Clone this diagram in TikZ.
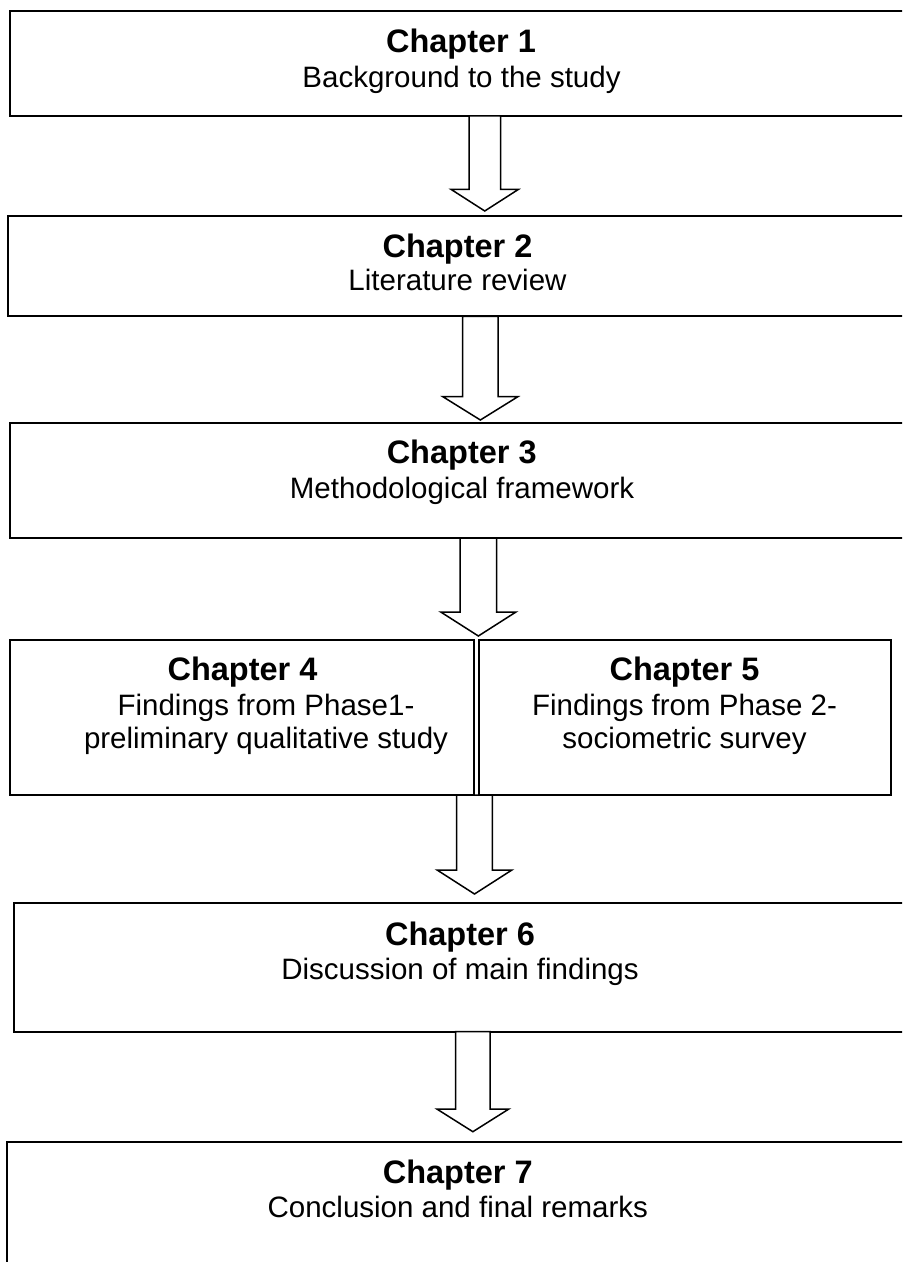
\documentclass[tikz,border=0pt]{standalone}
\usepackage{fontspec}
\setmainfont{Liberation Sans}
\usetikzlibrary{calc}

% Hollow block arrow from the bottom of one box to the top of the next.
% #1 source node, #2 target node, #3 centre x, #4 half shaft width,
% #5 half head width, #6 head length, #7 gap left above the target box
\newcommand\blockarrow[7]{%
  \draw[arrowbody]
    (#3-#4,0 |- #1.south)
    -- ($(#3-#4,0 |- #2.north)+(0,-#6-#7)$)
    -- ($(#3-#5,0 |- #2.north)+(0,-#6-#7)$)
    -- ($(#3,0 |- #2.north)+(0,-#7)$)
    -- ($(#3+#5,0 |- #2.north)+(0,-#6-#7)$)
    -- ($(#3+#4,0 |- #2.north)+(0,-#6-#7)$)
    -- (#3+#4,0 |- #1.south) -- cycle;}

\begin{document}
\begin{tikzpicture}[x=0.5pt,y=-0.5pt,
  chapbox/.style={draw=black, line width=1pt, fill=white, rectangle,
    anchor=north west, inner sep=0pt, outer sep=0pt},
  chaptitle/.style={anchor=base, inner sep=0pt,
    font=\fontsize{16.25pt}{19pt}\selectfont\bfseries},
  chapdesc/.style={anchor=base, inner sep=0pt,
    font=\fontsize{14.75pt}{17pt}\selectfont},
  arrowbody/.style={draw=black, line width=0.75pt, fill=white, line join=miter}]

\useasboundingbox (0,0) rectangle (902,1262);
\fill[white] (0,0) rectangle (902,1262);
\clip (0,0) rectangle (902,1262);

% chapter boxes
\node[chapbox, minimum width=452pt,   minimum height=52.5pt]  (b1) at (10,11) {};
\node[chapbox, minimum width=449.5pt, minimum height=50.4pt]  (b2) at (8,215.7) {};
\node[chapbox, minimum width=451.5pt, minimum height=57.5pt]  (b3) at (10,423) {};
\node[chapbox, minimum width=232.15pt,minimum height=77.75pt] (b4) at (10,639.5) {};
\node[chapbox, minimum width=206pt,   minimum height=77.25pt] (b5) at (479,640) {};
\node[chapbox, minimum width=446pt,   minimum height=64.2pt]  (b6) at (14,903.3) {};
\node[chapbox, minimum width=451.5pt, minimum height=80pt]    (b7) at (7,1141.7) {};

% box texts
\node[chaptitle] (t1) at (461,52.5) {Chapter 1};
\node[chapdesc]  (d1) at (461.5,87.5) {Background to the study};

\node[chaptitle] (t2) at (457.5,258) {Chapter 2};
\node[chapdesc]  (d2) at (457.5,290.5) {Literature review};

\node[chaptitle] (t3) at (461.7,463.5) {Chapter 3};
\node[chapdesc]  (d3) at (462,498) {Methodological framework};

\node[chaptitle] (t4)  at (242.5,680.5) {Chapter 4};
\node[chapdesc]  (d4a) at (266,715) {Findings from Phase1-};
\node[chapdesc]  (d4b) at (266,748.5) {preliminary qualitative study};

\node[chaptitle] (t5)  at (684.5,680.5) {Chapter 5};
\node[chapdesc]  (d5a) at (684.5,715) {Findings from Phase 2-};
\node[chapdesc]  (d5b) at (684.5,748.5) {sociometric survey};

\node[chaptitle] (t6) at (460,945) {Chapter 6};
\node[chapdesc]  (d6) at (460,979.5) {Discussion of main findings};

\node[chaptitle] (t7) at (457.8,1183.3) {Chapter 7};
\node[chapdesc]  (d7) at (457.8,1217.5) {Conclusion and final remarks};

% block arrows between the chapters
\blockarrow{b1}{b2}{484.75}{15.75}{33.5}{21.5}{4.7}
\blockarrow{b2}{b3}{480.35}{17.7}{37.5}{23.3}{3}
\blockarrow{b3}{b4}{478.35}{18.35}{37.6}{24}{3.5}
\blockarrow{b4}{b6}{474.5}{17.8}{37.4}{24}{9.3}
\blockarrow{b6}{b7}{472.85}{17.15}{36}{22.7}{10}

\end{tikzpicture}
\end{document}
